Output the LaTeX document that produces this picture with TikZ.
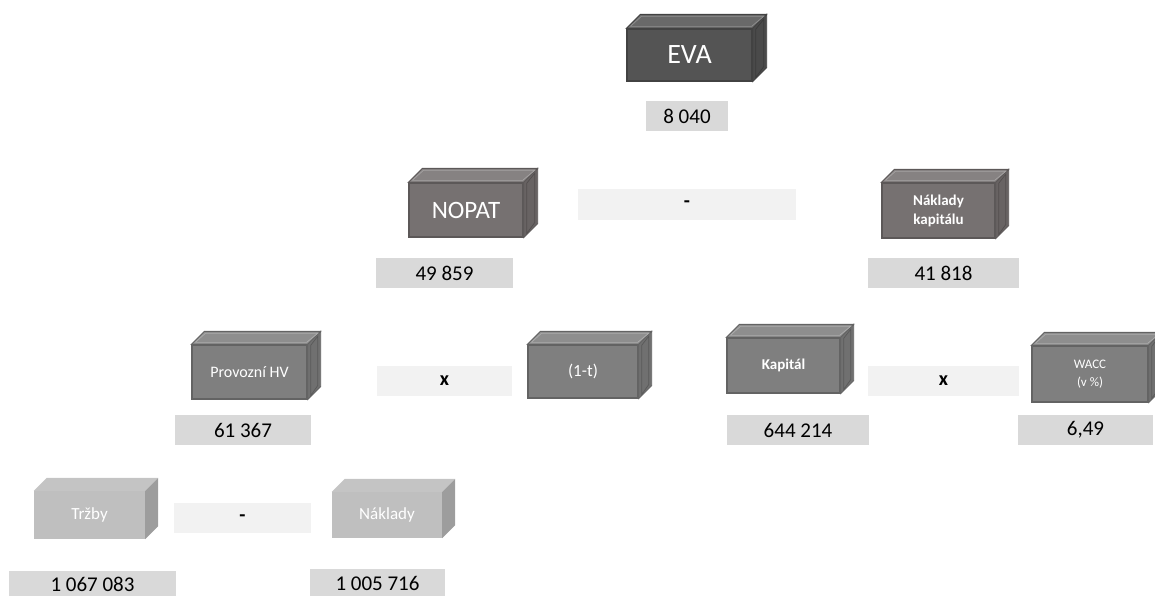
\documentclass[tikz,border=0pt]{standalone}
\usepackage{fontspec}
\setmainfont{Carlito}
\usetikzlibrary{calc}

\definecolor{lvlone}{HTML}{545454}
\definecolor{lvltwo}{HTML}{767171}
\definecolor{lvlthree}{HTML}{7F7F7F}
\definecolor{lvlfour}{HTML}{BFBFBF}
\definecolor{valgray}{HTML}{D9D9D9}
\definecolor{opgray}{HTML}{F2F2F2}

\tikzset{
  cube/.style={draw=#1!78!black, fill=#1, line width=1.3pt, text=white, inner sep=0pt, align=center},
  flatcube/.style={fill=#1, text=white, inner sep=0pt, align=center},
  value/.style={fill=valgray, inner sep=0pt, minimum height=30pt, font=\fontsize{21}{21}\selectfont},
  oper/.style={fill=opgray, inner sep=0pt, minimum height=30pt, font=\bfseries\fontsize{20}{20}\selectfont},
}

% top and right faces of a box, with a light bevel line inside
\newcommand{\cubedepth}[3]{%
  \filldraw[fill=#3!88!white, draw=#3!78!black, line width=0.8pt]
    (#1.north west) -- ++(#2,-#2) -- ($(#1.north east)+(#2,-#2)$) -- (#1.north east) -- cycle;
  \filldraw[fill=#3!88!black, draw=#3!78!black, line width=0.8pt]
    (#1.north east) -- ++(#2,-#2) -- ($(#1.south east)+(#2,-#2)$) -- (#1.south east) -- cycle;
  \draw[#3!65!white, line width=0.7pt]
    ($(#1.north west)+(4,-2)$) -- ($(#1.north west)+(#2+1,-#2+2)$) -- ($(#1.north east)+(#2-3,-#2+2)$) -- ($(#1.north east)+(-1,-2)$) -- cycle;
  \draw[#3!70!black, line width=0.7pt]
    ($(#1.north east)+(3,1)$) -- ($(#1.north east)+(#2-3,-#2+5)$) -- ($(#1.south east)+(#2-3,-#2-1)$) -- ($(#1.south east)+(3,-4)$) -- cycle;
}
% top and right faces, plain
\newcommand{\flatdepth}[3]{%
  \fill[#3!92!white] (#1.north west) -- ++(#2,-#2) -- ($(#1.north east)+(#2,-#2)$) -- (#1.north east) -- cycle;
  \fill[#3!82!black] (#1.north east) -- ++(#2,-#2) -- ($(#1.south east)+(#2,-#2)$) -- (#1.south east) -- cycle;
}

\begin{document}
\begin{tikzpicture}[x=1pt, y=-1pt]
    \useasboundingbox (0,0) rectangle (1155,595);

    % EVA
    \node[cube=lvlone, minimum width=125pt, minimum height=52pt, font=\fontsize{28}{28}\selectfont] (eva) at (689.5,55) {EVA};
    \cubedepth{eva}{14}{lvlone}
    \node[value, minimum width=82pt] (evaval) at (687,116) {8 040};

    % NOPAT - Naklady kapitalu
    \node[cube=lvltwo, minimum width=114pt, minimum height=54pt, font=\fontsize{25}{25}\selectfont] (nopat) at (466,210) {NOPAT};
    \cubedepth{nopat}{14}{lvltwo}
    \node[value, minimum width=137pt] (nopatval) at (444.5,273) {49 859};

    \node[oper, minimum width=218pt, minimum height=31pt] (minusA) at (687,204.5) {-};

    \node[cube=lvltwo, minimum width=113pt, minimum height=55pt, font=\bfseries\fontsize{15}{19}\selectfont] (nakkap) at (938.5,210.5) {Náklady\\kapitálu};
    \cubedepth{nakkap}{13}{lvltwo}
    \node[value, minimum width=151pt] (nakkapval) at (943.5,273) {41 818};

    % Provozni HV x (1-t)
    \node[cube=lvlthree, minimum width=115pt, minimum height=54pt, font=\fontsize{16}{16}\selectfont] (provhv) at (249.5,372) {Provozní HV};
    \cubedepth{provhv}{13}{lvlthree}
    \node[value, minimum width=136pt] (provhvval) at (243,430) {61 367};

    \node[oper, minimum width=135pt] (timesA) at (444.5,381) {x};

    \node[cube=lvlthree, minimum width=110pt, minimum height=53pt, font=\fontsize{17}{17}\selectfont] (jednat) at (583,371.5) {(1-t)};
    \cubedepth{jednat}{13}{lvlthree}

    % Kapital x WACC
    \node[cube=lvlthree, minimum width=113pt, minimum height=55pt, font=\bfseries\fontsize{15}{15}\selectfont] (kapital) at (783.5,365.5) {Kapitál};
    \cubedepth{kapital}{13}{lvlthree}
    \node[value, minimum width=142pt] (kapitalval) at (798,430) {644 214};

    \node[oper, minimum width=151pt] (timesB) at (943.5,381) {x};

    \node[cube=lvlthree, minimum width=116pt, minimum height=56pt, font=\fontsize{13}{18}\selectfont] (wacc) at (1090,374) {WACC\\(v \%)};
    \cubedepth{wacc}{13}{lvlthree}
    \node[value, minimum width=135pt] (waccval) at (1085.5,430) {6,49};

    % Trzby - Naklady
    \node[flatcube=lvlfour, minimum width=111pt, minimum height=48pt, font=\fontsize{17}{17}\selectfont] (trzby) at (89.5,515) {Tržby};
    \flatdepth{trzby}{13}{lvlfour}
    \node[value, minimum width=167pt, minimum height=26pt] (trzbyval) at (92.5,584) {1 067 083};

    \node[oper, minimum width=137pt] (minusB) at (242.5,518) {-};

    \node[flatcube=lvlfour, minimum width=110pt, minimum height=46pt, font=\fontsize{17}{17}\selectfont] (naklady) at (387,515) {Náklady};
    \flatdepth{naklady}{13}{lvlfour}
    \node[value, minimum width=135pt, minimum height=28pt] (nakladyval) at (377.5,583) {1 005 716};

\end{tikzpicture}
\end{document}
